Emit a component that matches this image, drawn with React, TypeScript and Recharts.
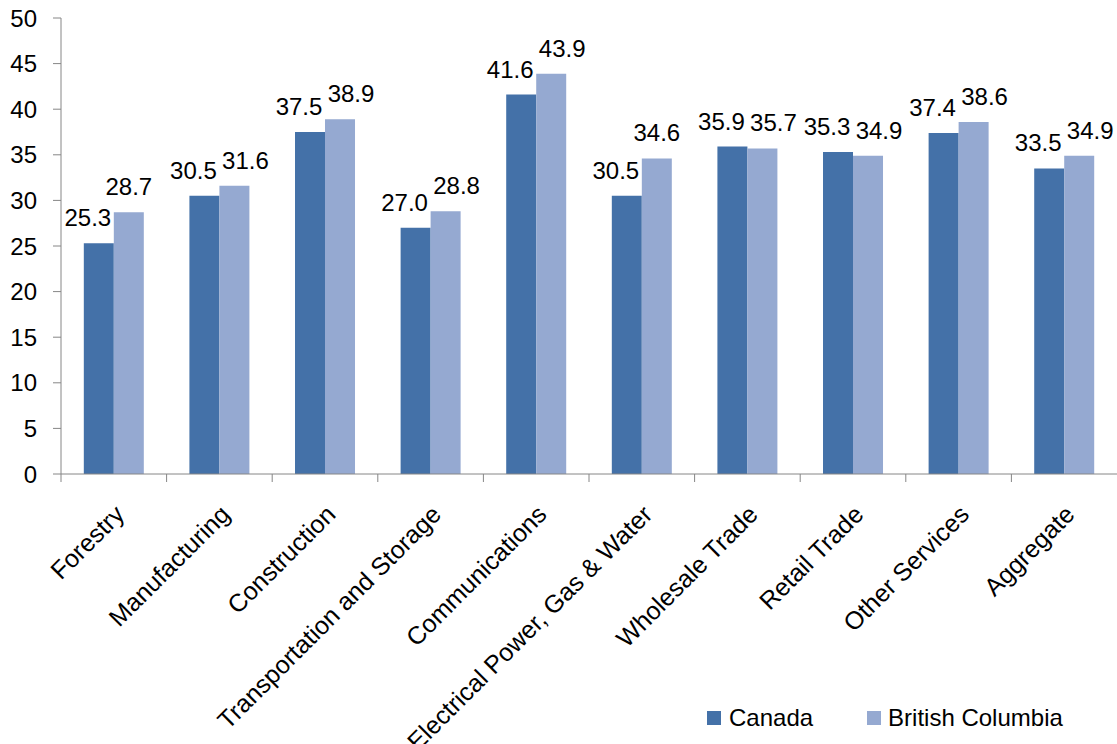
import React from 'react';
import { BarChart, Bar, XAxis, YAxis, Legend, LabelList } from 'recharts';

const categories = [
  'Forestry',
  'Manufacturing',
  'Construction',
  'Transportation and Storage',
  'Communications',
  'Electrical Power, Gas & Water',
  'Wholesale Trade',
  'Retail Trade',
  'Other Services',
  'Aggregate',
];
const canada = [25.3, 30.5, 37.5, 27.0, 41.6, 30.5, 35.9, 35.3, 37.4, 33.5];
const britishColumbia = [28.7, 31.6, 38.9, 28.8, 43.9, 34.6, 35.7, 34.9, 38.6, 34.9];
const yTicks = [0, 5, 10, 15, 20, 25, 30, 35, 40, 45, 50];
const seriesNames = ['Canada', 'British Columbia'];

const data = categories.map((c, i) => ({ name: c, canada: canada[i], bc: britishColumbia[i] }));

const W = 1117;
const H = 744;
const PLOT_LEFT = 61;
const PLOT_TOP = 18;
const PLOT_BOTTOM = 474;
const BAND = (W - PLOT_LEFT) / categories.length;
const PX_PER_UNIT = (PLOT_BOTTOM - PLOT_TOP) / 50;
const FONT = "'Liberation Sans', Arial, sans-serif";
const C_CANADA = '#4471A8';
const C_BC = '#95A9D1';
const AXIS = '#868686';

const XTick = (props: any) => {
  const { x, y, payload } = props;
  const bx = x - BAND / 2;
  const tx = x + 12;
  const ty = y + 34;
  return (
    <g>
      <line x1={bx} x2={bx} y1={PLOT_BOTTOM} y2={PLOT_BOTTOM + 8} stroke={AXIS} strokeWidth={1} />
      <text
        x={tx}
        y={ty}
        textAnchor="end"
        transform={`rotate(-45 ${tx} ${ty})`}
        fontFamily={FONT}
        fontSize={25}
        fill="#000"
      >
        {payload.value}
      </text>
    </g>
  );
};

const makeLabel = (series: 'canada' | 'bc') => (props: any) => {
  const { x, y, width, value, index } = props;
  const diffPx = Math.abs(canada[index] - britishColumbia[index]) * PX_PER_UNIT;
  let dx = 0;
  if (series === 'canada') dx = -11;
  else dx = diffPx < 28 ? 11 : 0;
  return (
    <text
      x={x + width / 2 + dx}
      y={y - 17}
      textAnchor="middle"
      fontFamily={FONT}
      fontSize={24}
      fill="#000"
    >
      {Number(value).toFixed(1)}
    </text>
  );
};

const LegendContent = () => (
  <div style={{ display: 'flex', alignItems: 'center', height: 30, fontFamily: FONT, fontSize: 24, color: '#000', whiteSpace: 'nowrap' }}>
    <span style={{ display: 'inline-block', width: 14, height: 14, background: C_CANADA, marginRight: 8 }} />
    <span style={{ marginRight: 54 }}>{seriesNames[0]}</span>
    <span style={{ display: 'inline-block', width: 14, height: 14, background: C_BC, marginRight: 7 }} />
    <span>{seriesNames[1]}</span>
  </div>
);

export default function App() {
  return (
    <div style={{ position: 'fixed', left: 0, top: 0, width: W, height: H, overflow: 'hidden', background: '#fff' }}>
      <BarChart
        width={W}
        height={H}
        data={data}
        margin={{ top: PLOT_TOP, right: 0, left: 0, bottom: 0 }}
        barGap={0}
        barCategoryGap="21.6%"
      >
        <XAxis
          dataKey="name"
          interval={0}
          height={H - PLOT_BOTTOM - 30}
          tickLine={false}
          tick={<XTick />}
          axisLine={{ stroke: AXIS, strokeWidth: 1 }}
        />
        <YAxis
          width={PLOT_LEFT}
          domain={[0, 50]}
          ticks={yTicks}
          interval={0}
          tickSize={8}
          tickMargin={16}
          axisLine={{ stroke: AXIS, strokeWidth: 1 }}
          tickLine={{ stroke: AXIS, strokeWidth: 1 }}
          tick={{ fontFamily: FONT, fontSize: 24, fill: '#000' }}
        />
        <Legend
          verticalAlign="bottom"
          height={30}
          content={<LegendContent />}
          wrapperStyle={{ left: 707, top: 703, width: 'auto', bottom: 'auto' }}
        />
        <Bar dataKey="canada" name={seriesNames[0]} fill={C_CANADA} isAnimationActive={false}>
          <LabelList dataKey="canada" content={makeLabel('canada')} />
        </Bar>
        <Bar dataKey="bc" name={seriesNames[1]} fill={C_BC} isAnimationActive={false}>
          <LabelList dataKey="bc" content={makeLabel('bc')} />
        </Bar>
      </BarChart>
    </div>
  );
}
